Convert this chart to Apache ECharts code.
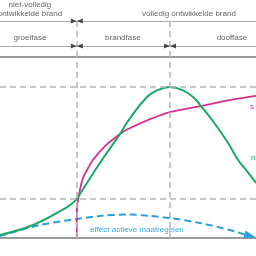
<!DOCTYPE html>
<html><head><meta charset="utf-8">
<script src="https://cdn.jsdelivr.net/npm/echarts@6/dist/echarts.min.js"></script>
<style>html,body{margin:0;padding:0;background:#fff}#c{width:256px;height:256px}</style>
</head><body><div id="c"></div>
<script>
// time axis 0..10, level axis 0..100
const phaseBounds = [3.0, 6.64];
const peakLevel = 83.4;
const flashLevel = 21.5;

const greenT = [0, 1.29, 2.62, 3.0, 3.98, 4.69, 5.0, 5.74, 6.17, 6.64, 7.11, 7.54, 7.85, 8.40, 8.91, 9.30, 9.61, 10];
const greenV = [1.7, 7.2, 17.1, 21.5, 43.1, 57.5, 64.6, 77.9, 81.8, 83.4, 81.8, 77.9, 72.9, 63.0, 52.5, 43.1, 37.6, 30.4];

const magentaT = [3.0, 3.0, 3.02, 3.05, 3.12, 3.24, 3.40, 3.63, 4.10, 4.69, 5.0, 5.86, 6.64, 7.85, 8.98, 10];
const magentaV = [0, 12.7, 18.2, 21.0, 26.5, 33.1, 37.6, 43.1, 50.8, 57.5, 60.2, 65.7, 69.6, 72.9, 76.2, 78.5];

const blueT = [0, 1.56, 3.0, 3.9, 5.0, 5.86, 6.64, 7.81, 8.98, 9.5];
const blueV = [1.1, 7.2, 10.5, 12.2, 13.0, 12.2, 11.0, 8.3, 4.4, 2.2];
const blueEnd = [9.78, 1.1];

const headerLabels = ['niet-volledig\nontwikkelde brand', 'volledig ontwikkelde brand', 'groeifase', 'brandfase', 'dooffase'];
const headerLabelT = [1.17, 7.38, 1.17, 4.8, 9.06];
const headerLabelRow = [9.5, 14, 38, 38, 38];

const curveLabels = ['s', 'n', 'effect actieve maatregelen'];

const zip = (a, b) => a.map((x, i) => [x, b[i]]);
const FONT = 'Liberation Sans';
const gray = '#b5b5b5';
const dashed = { color: gray, width: 1.5, type: [6, 4] };
const green = '#1aa866';
const kink = greenT.indexOf(phaseBounds[0]);

const chart = echarts.init(document.getElementById('c'), null, { renderer: 'canvas' });
chart.setOption({
  animation: false,
  textStyle: { fontFamily: FONT },
  grid: [
    { left: 0, right: 0, top: 57, bottom: 18 },
    { left: 0, right: 0, top: 0, height: 57 }
  ],
  xAxis: [
    { gridIndex: 0, type: 'value', min: 0, max: 10, axisLine: { show: true, onZero: false, lineStyle: { color: '#9a9a9a', width: 2 } }, axisTick: { show: false }, axisLabel: { show: false }, splitLine: { show: false } },
    { gridIndex: 1, type: 'value', min: 0, max: 10, axisLine: { show: true, onZero: false, lineStyle: { color: '#9a9a9a', width: 2 } }, axisTick: { show: false }, axisLabel: { show: false }, splitLine: { show: false } }
  ],
  yAxis: [
    { gridIndex: 0, type: 'value', min: 0, max: 100, show: false },
    { gridIndex: 1, type: 'value', min: 0, max: 57, inverse: true, show: false }
  ],
  series: [
    {
      type: 'line', xAxisIndex: 0, yAxisIndex: 0, data: [], z: 1,
      markLine: {
        silent: true, symbol: ['none', 'none'], label: { show: false }, lineStyle: dashed,
        data: [{ yAxis: peakLevel }, { yAxis: flashLevel }, { xAxis: phaseBounds[0] }, { xAxis: phaseBounds[1] }]
      }
    },
    {
      type: 'line', xAxisIndex: 1, yAxisIndex: 1, data: [], z: 1,
      markLine: {
        silent: true, symbol: ['none', 'none'], label: { show: false },
        data: [
          { yAxis: 21, lineStyle: { color: '#aaaaaa', width: 1, type: 'solid' } },
          { yAxis: 46, lineStyle: { color: '#aaaaaa', width: 1, type: 'solid' } },
          [{ coord: [phaseBounds[0], 21], lineStyle: dashed }, { coord: [phaseBounds[0], 57] }],
          [{ coord: [phaseBounds[1], 21], lineStyle: dashed }, { coord: [phaseBounds[1], 57] }]
        ]
      }
    },
    {
      type: 'scatter', xAxisIndex: 1, yAxisIndex: 1, z: 5,
      symbol: 'path://M0,0L10,5L0,10Z', symbolSize: [6, 5], symbolOffset: [-3, 0],
      itemStyle: { color: '#222' },
      data: [[phaseBounds[0], 21], [phaseBounds[0], 46], [phaseBounds[1], 46]]
    },
    {
      type: 'scatter', xAxisIndex: 1, yAxisIndex: 1, z: 5,
      symbol: 'path://M10,0L0,5L10,10Z', symbolSize: [6, 5], symbolOffset: [3, 0],
      itemStyle: { color: '#222' },
      data: [[phaseBounds[0], 21], [phaseBounds[0], 46], [phaseBounds[1], 46]]
    },
    {
      type: 'scatter', xAxisIndex: 1, yAxisIndex: 1, z: 6, symbolSize: 0,
      label: { show: true, position: 'inside', formatter: p => p.name, color: '#3a3a3a', fontSize: 8, lineHeight: 9, fontFamily: FONT },
      data: headerLabels.map((n, i) => ({ name: n, value: [headerLabelT[i], headerLabelRow[i]] }))
    },
    {
      type: 'line', xAxisIndex: 0, yAxisIndex: 0, z: 3, smooth: 0.3, symbol: 'none',
      lineStyle: { color: '#2a9fe0', width: 2, type: [7, 4] },
      data: zip(blueT, blueV),
      markLine: {
        silent: true, symbol: ['none', 'triangle'], symbolSize: [8, 12], label: { show: false },
        lineStyle: { color: '#2a9fe0', width: 2, type: [7, 4] },
        data: [[{ coord: [blueT[blueT.length - 1], blueV[blueV.length - 1]] }, { coord: blueEnd }]]
      },
      markPoint: {
        silent: true, symbol: 'circle', symbolSize: 0,
        label: { show: true, position: 'right', distance: 0, formatter: curveLabels[2], color: '#3aa8e0', fontSize: 8, fontFamily: FONT },
        data: [{ coord: [3.52, 4.4] }]
      }
    },
    {
      type: 'line', xAxisIndex: 0, yAxisIndex: 0, z: 4, smooth: 0.3, symbol: 'none',
      lineStyle: { color: '#d6308f', width: 1.8 },
      data: zip(magentaT, magentaV),
      markPoint: {
        silent: true, symbol: 'circle', symbolSize: 0,
        label: { show: true, position: 'right', distance: 0, formatter: curveLabels[0], color: '#d6308f', fontSize: 8, fontFamily: FONT },
        data: [{ coord: [9.77, 72.4] }]
      }
    },
    {
      type: 'line', xAxisIndex: 0, yAxisIndex: 0, z: 4, smooth: 0.4, symbol: 'none',
      lineStyle: { color: green, width: 2 },
      data: zip(greenT, greenV).slice(0, kink + 1)
    },
    {
      type: 'line', xAxisIndex: 0, yAxisIndex: 0, z: 4, smooth: 0.45, symbol: 'none',
      lineStyle: { color: green, width: 2 },
      data: zip(greenT, greenV).slice(kink),
      markPoint: {
        silent: true, symbol: 'circle', symbolSize: 0,
        label: { show: true, position: 'right', distance: 0, formatter: curveLabels[1], color: green, fontSize: 8, fontFamily: FONT },
        data: [{ coord: [9.8, 44.2] }]
      }
    }
  ]
});
</script></body></html>
